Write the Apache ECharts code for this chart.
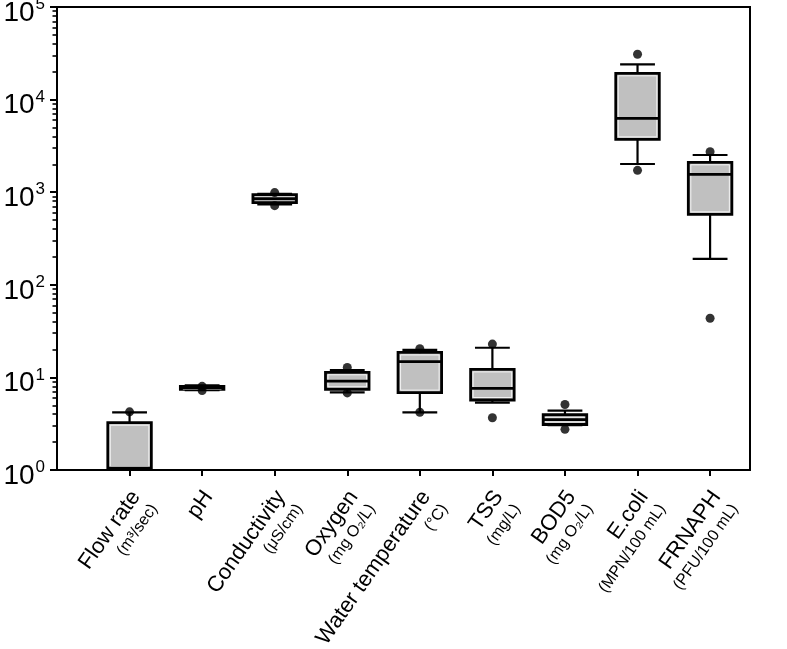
<!DOCTYPE html>
<html>
<head>
<meta charset="utf-8">
<script src="https://cdn.jsdelivr.net/npm/echarts@6/dist/echarts.min.js"></script>
<style>
html,body{margin:0;padding:0;background:#fff;}
#chart{width:787px;height:649px;}
</style>
</head>
<body>
<div id="chart"></div>
<script>
// Category names and units
const categories = ['Flow rate','pH','Conductivity','Oxygen','Water temperature','TSS','BOD5','E.coli','FRNAPH'];
const units = ['(m³/sec)','','(μS/cm)','(mg O₂/L)','(°C)','(mg/L)','(mg O₂/L)','(MPN/100 mL)','(PFU/100 mL)'];

// Box statistics per category
const lowWhisker  = [0.9,  7.3,  740,  6.9,  4.2,  5.33, 3.05, 2017,  191];
const q1          = [1.02, 7.45, 770,  7.45, 6.85, 5.7,  3.1,  3725,  577];
const median      = [1.05, 7.7,  850,  9.1,  14.8, 7.6,  3.5,  6280,  1561];
const q3          = [3.24, 8.0,  940,  11.35,18.6, 12.2, 3.95, 19230, 2103];
const highWhisker = [4.2,  8.2,  960,  12.0, 19.8, 20.9, 4.37, 24050, 2523];

// Outlier points (category index, value)
const outlierCat   = [1,    2,   2,   3,   3,   4,    4,   5,    5,   6,    6,    7,   7,    8,     8,    9,    9];
const outlierValue = [4.25, 8.0, 7.2, 990, 715, 12.8, 6.8, 20.4, 4.2, 22.9, 3.67, 5.1, 2.75, 30850, 1723, 2737, 43.5];

// Y tick exponents
const yExponents = [0,1,2,3,4,5];
const xPositions = [1,2,3,4,5,6,7,8,9];
const minorMultipliers = [2,3,4,5,6,7,8,9];

const boxData = categories.map((c,i)=>[i+1, lowWhisker[i], q1[i], median[i], q3[i], highWhisker[i]]);
const outlierData = outlierCat.map((c,i)=>[c, outlierValue[i]]);
const majorValues = yExponents.map(e=>Math.pow(10,e));
const minorValues = [];
yExponents.slice(0,-1).forEach(e=>minorMultipliers.forEach(m=>minorValues.push(m*Math.pow(10,e))));

const chart = echarts.init(document.getElementById('chart'), null, {renderer:'canvas'});

function renderBox(params, api){
  const x = api.value(0);
  const pLow = api.coord([x, api.value(1)]);
  const pQ1 = api.coord([x, api.value(2)]);
  const pMed = api.coord([x, api.value(3)]);
  const pQ3 = api.coord([x, api.value(4)]);
  const pHigh = api.coord([x, api.value(5)]);
  const band = api.size([1,0])[0];
  const bw = band*0.6, cw = band*0.48;
  const cx = pQ1[0];
  const black = {stroke:'#000', lineWidth:2.2};
  const children = [
    {type:'line', shape:{x1:cx,y1:pQ3[1],x2:cx,y2:pHigh[1]}, style:black},
    {type:'line', shape:{x1:cx,y1:pQ1[1],x2:cx,y2:pLow[1]}, style:black},
    {type:'line', shape:{x1:cx-cw/2,y1:pHigh[1],x2:cx+cw/2,y2:pHigh[1]}, style:black},
    {type:'line', shape:{x1:cx-cw/2,y1:pLow[1],x2:cx+cw/2,y2:pLow[1]}, style:black},
    {type:'rect', shape:{x:cx-bw/2,y:pQ3[1],width:bw,height:pQ1[1]-pQ3[1]}, style:{fill:'#c0c0c0',stroke:'#000',lineWidth:2.8}},
    {type:'rect', shape:{x:cx-bw/2+2.5,y:pQ3[1]+2.5,width:Math.max(0,bw-5),height:Math.max(0,pQ1[1]-pQ3[1]-5)}, style:{fill:null,stroke:'#f2f2f2',lineWidth:1}},
    {type:'line', shape:{x1:cx-bw/2,y1:pMed[1],x2:cx+bw/2,y2:pMed[1]}, style:{stroke:'#000',lineWidth:2.8}}
  ];
  return {type:'group', children:children};
}

const FONT = 'Liberation Sans, Arial, sans-serif';
const option = {
  backgroundColor:'#fff',
  animation:false,
  grid:{left:57, right:37, top:7, bottom:179, outerBoundsMode:'none', containLabel:false,
        show:true, borderColor:'#000', borderWidth:2, backgroundColor:'transparent'},
  xAxis:{
    type:'value', min:0, max:9.55, interval:1,
    splitLine:{show:false},
    axisLine:{show:true, onZero:false, lineStyle:{color:'#000', width:2}},
    axisTick:{show:true, length:6, inside:false, lineStyle:{color:'#000', width:2}, customValues:xPositions},
    axisLabel:{
      customValues:xPositions,
      rotate:55, margin:10, align:'right', verticalAlign:'top', padding:[0,7,0,0],
      color:'#000', fontFamily:FONT,
      formatter:function(v){
        const i = Math.round(v)-1;
        if(i<0||i>=categories.length) return '';
        return units[i] ? '{n|'+categories[i]+'}\n{u|'+units[i]+'}' : '{n|'+categories[i]+'}';
      },
      rich:{
        n:{fontSize:22, color:'#000', fontFamily:FONT, lineHeight:25},
        u:{fontSize:16, color:'#000', fontFamily:FONT, lineHeight:20}
      }
    }
  },
  yAxis:[{
    type:'log', logBase:10, min:1, max:100000, position:'left',
    splitLine:{show:false},
    axisLine:{show:true, onZero:false, lineStyle:{color:'#000', width:2}},
    axisTick:{show:true, length:7, inside:false, lineStyle:{color:'#000', width:2}, customValues:majorValues},
    axisLabel:{
      margin:12, color:'#000', customValues:majorValues,
      formatter:function(v){
        const e = Math.round(Math.log10(v));
        if (yExponents.indexOf(e)<0) return '';
        return '{a|10}{b|'+e+'}';
      },
      rich:{
        a:{fontSize:28, color:'#000', fontFamily:FONT, padding:[12,0,0,0]},
        b:{fontSize:17, color:'#000', fontFamily:FONT, verticalAlign:'top', padding:[9,0,0,1]}
      }
    }
  },{
    type:'log', logBase:10, min:1, max:100000, position:'left', offset:0,
    splitLine:{show:false},
    axisLine:{show:false},
    axisLabel:{show:false},
    axisTick:{show:true, length:4.5, inside:false, lineStyle:{color:'#000', width:1.6}, customValues:minorValues}
  }],
  series:[
    {type:'custom', renderItem:renderBox, data:boxData, clip:true, z:4},
    {type:'scatter', data:outlierData, symbol:'circle', symbolSize:9, itemStyle:{color:'#000'}, z:6}
  ]
};
chart.setOption(option);
</script>
</body>
</html>
